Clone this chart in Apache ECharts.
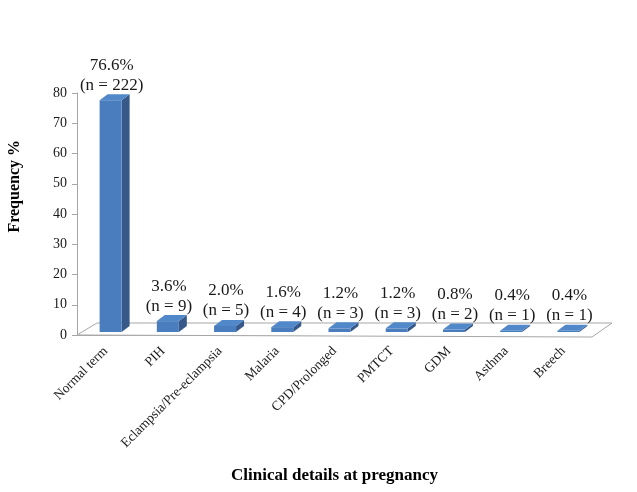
<!DOCTYPE html>
<html>
<head>
<meta charset="utf-8">
<script src="https://cdn.jsdelivr.net/npm/echarts@6/dist/echarts.min.js"></script>
<style>html,body{margin:0;padding:0;background:#fff}#c{width:637px;height:492px}</style>
</head>
<body>
<div id="c"></div>
<script>
var categories = ['Normal term', 'PIH', 'Eclampsia/Pre-eclampsia', 'Malaria', 'CPD/Prolonged', 'PMTCT', 'GDM', 'Asthma', 'Breech'];
var percents = [76.6, 3.6, 2.0, 1.6, 1.2, 1.2, 0.8, 0.4, 0.4];
var counts = [222, 9, 5, 4, 3, 3, 2, 1, 1];
var yTicks = [0, 10, 20, 30, 40, 50, 60, 70, 80];
var xTitle = 'Clinical details at pregnancy';
var yTitle = 'Frequency %';

var FONT = '"Liberation Serif", "Times New Roman", serif';
var chart = echarts.init(document.getElementById('c'));

var floorSeries = {
  type: 'custom',
  z: 1,
  silent: true,
  data: [[0, 0]],
  renderItem: function (params, api) {
    var cs = params.coordSys;
    var x0 = cs.x, y0 = cs.y + cs.height, x1 = cs.x + cs.width;
    return {
      type: 'polygon',
      shape: { points: [[x0, y0], [x1, y0 + 2], [x1 + 20, y0 - 12], [x0 + 20, y0 - 12]] },
      style: { fill: '#ffffff', stroke: '#a6a6a6', lineWidth: 1 }
    };
  }
};

var barSeries = {
  type: 'custom',
  z: 3,
  data: percents.map(function (v, i) { return [i, v, counts[i]]; }),
  encode: { x: 0, y: 1 },
  renderItem: function (params, api) {
    var i = api.value(0), v = api.value(1), n = api.value(2);
    var base = api.coord([i, 0]);
    var top = api.coord([i, v]);
    var cx = base[0];
    var xl = cx - 6, xr = cx + 16;
    var yb = base[1] - 3, yt = top[1] - 3;
    var dx = 8, dy = -6;
    return {
      type: 'group',
      children: [
        { type: 'polygon', shape: { points: [[xr, yb], [xr + dx, yb + dy], [xr + dx, yt + dy], [xr, yt]] },
          style: { fill: '#36598a' } },
        { type: 'polygon', shape: { points: [[xl, yt], [xr, yt], [xr + dx, yt + dy], [xl + dx, yt + dy]] },
          style: { fill: '#5088c9' } },
        { type: 'rect', shape: { x: xl, y: yt, width: xr - xl, height: yb - yt },
          style: { fill: '#4a7dbd' } },
        { type: 'text', x: cx + 6, y: yt + dy + 1,
          style: { text: v.toFixed(1) + '%\n(n = ' + n + ')', fill: '#1a1a1a',
            font: '17px ' + FONT, align: 'center', verticalAlign: 'bottom', lineHeight: 20 } }
      ]
    };
  }
};

chart.setOption({
  animation: false,
  grid: { left: 77, right: 45, top: 93, bottom: 157 },
  graphic: [{
    type: 'text', left: 7, top: 140,
    rotation: Math.PI / 2,
    style: { text: yTitle, font: 'bold 16px ' + FONT, fill: '#000', align: 'center', verticalAlign: 'middle' },
    x: 17, y: 187
  }],
  xAxis: {
    type: 'category',
    data: categories,
    name: xTitle,
    nameLocation: 'middle',
    nameGap: 132,
    nameTextStyle: { fontFamily: FONT, fontSize: 17, fontWeight: 'bold', color: '#000' },
    axisLine: { lineStyle: { color: '#a6a6a6' } },
    axisTick: { alignWithLabel: false, length: 5, lineStyle: { color: '#a6a6a6' } },
    axisLabel: { rotate: 45, interval: 0, fontFamily: FONT, fontSize: 13.5, color: '#1a1a1a', margin: 14 }
  },
  yAxis: {
    type: 'value',
    min: 0, max: 80, interval: 10,
    axisLine: { show: true, lineStyle: { color: '#a6a6a6' } },
    axisTick: { show: true, length: 5, lineStyle: { color: '#a6a6a6' } },
    splitLine: { show: false },
    axisLabel: { fontFamily: FONT, fontSize: 14, color: '#1a1a1a', margin: 10,
      formatter: function (v) { return yTicks.indexOf(v) >= 0 ? String(v) : ''; } }
  },
  series: [floorSeries, barSeries]
});
</script>
</body>
</html>
